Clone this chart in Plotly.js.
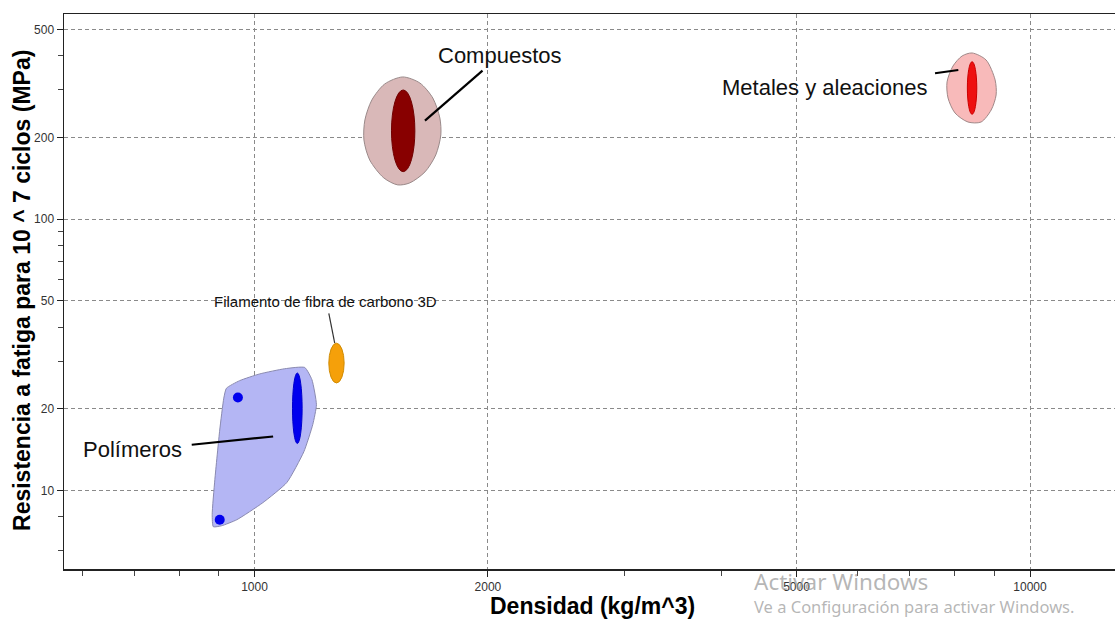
<!DOCTYPE html>
<html>
<head>
<meta charset="utf-8">
<script src="https://cdn.plot.ly/plotly-3.0.1.min.js"></script>
<style>html,body{margin:0;padding:0;background:#fff;}#chart{width:1115px;height:619px;}</style>
</head>
<body>
<div id="chart"></div>
<script>
// ---- Axis ticks ----
const xTickVals = [1000, 2000, 5000, 10000];
const xTickText = ['1000', '2000', '5000', '10000'];
const xMinorTicks = [600, 700, 800, 900, 3000, 4000, 6000, 7000, 8000, 9000];
const yTickVals = [10, 20, 50, 100, 200, 500];
const yTickText = ['10', '20', '50', '100', '200', '500'];
const yMinorTicks = [6, 8, 30, 40, 60, 70, 80, 90, 300, 400];

// ---- Material family envelopes (density kg/m^3, fatigue strength MPa) ----
const polymerX = [920, 957, 1016, 1094, 1161, 1186, 1202, 1189, 1158, 1101, 1025, 949, 907, 885, 882, 889, 902, 913, 920];
const polymerY = [23.8, 25.4, 26.9, 28.1, 28.4, 25.6, 20.7, 17.5, 13.9, 10.7, 9.01, 7.80, 7.41, 7.35, 8.14, 10.95, 16.7, 21.9, 23.8];
const compositeX = [1553, 1634, 1698, 1734, 1739, 1713, 1659, 1586, 1530, 1468, 1408, 1384, 1388, 1417, 1472, 1553];
const compositeY = [334.5, 317.8, 279.8, 236.1, 204.5, 172.5, 149.4, 136.1, 133.8, 142.0, 165.3, 196.0, 232.2, 275.2, 315.1, 334.5];
const metalX = [8420, 8777, 9016, 9043, 8911, 8648, 8318, 8004, 7840, 7817, 7957, 8174, 8420];
const metalY = [410, 386.4, 326.1, 287.1, 252.7, 228.2, 228.2, 246.4, 279.8, 320.7, 367.2, 399.7, 410];

// ---- Individual material bubbles (density range, strength range) ----
const bubbleNames = ['Polímero', 'Filamento de fibra de carbono 3D', 'Compuesto', 'Metal'];
const bubbleXMin = [1119.5, 1247, 1502, 8303];
const bubbleXMax = [1152, 1305, 1610, 8538];
const bubbleYMin = [14.9, 24.9, 149.7, 243.7];
const bubbleYMax = [27.1, 34.9, 299.5, 380.7];
const bubbleColors = ['#0000ee', '#f5a00a', '#880000', '#ee1010'];
const bubbleEdges = ['#0000cc', '#d08a00', '#700000', '#cc0000'];

// ---- Small polymer points ----
const dotX = [952, 902];
const dotY = [22.0, 7.80];

// ---- Labels ----
const labelText = ['Compuestos', 'Metales y aleaciones', 'Polímeros', 'Filamento de fibra de carbono 3D'];
const labelX = [2072, 5440, 697, 1236];
const labelY = [400, 305, 14.13, 49.6];
const labelSize = [22, 22, 22, 15];
// leader lines: start (near label) -> end (on group)
const leaderX0 = [1968, 7543, 830, 1247];
const leaderY0 = [352.8, 345.1, 14.74, 45.0];
const leaderX1 = [1659, 8083, 1057, 1269];
const leaderY1 = [230.8, 354.9, 15.81, 34.9];

const FONT = 'Liberation Sans, Arial, sans-serif';

const traces = [
  {x: polymerX, y: polymerY, mode: 'lines', fill: 'toself', fillcolor: '#b4b6f4',
   line: {color: '#8a8ab0', width: 1, shape: 'spline', smoothing: 0.5}, hoverinfo: 'skip', showlegend: false},
  {x: compositeX, y: compositeY, mode: 'lines', fill: 'toself', fillcolor: '#d9b8b8',
   line: {color: '#9a8a8a', width: 1, shape: 'spline', smoothing: 0.8}, hoverinfo: 'skip', showlegend: false},
  {x: metalX, y: metalY, mode: 'lines', fill: 'toself', fillcolor: '#f8baba',
   line: {color: '#a08888', width: 1, shape: 'spline', smoothing: 0.8}, hoverinfo: 'skip', showlegend: false},
  {x: dotX, y: dotY, mode: 'markers', marker: {color: '#0000ee', size: 10, line: {width: 0}},
   hoverinfo: 'skip', showlegend: false}
];
for (let i = 0; i < leaderX0.length; i++) {
  traces.push({x: [leaderX0[i], leaderX1[i]], y: [leaderY0[i], leaderY1[i]], mode: 'lines',
    line: {color: i === 3 ? '#333' : '#000', width: i === 3 ? 1.2 : 2.2}, hoverinfo: 'skip', showlegend: false});
}

const shapes = bubbleNames.map((n, i) => ({
  type: 'circle', xref: 'x', yref: 'y',
  x0: bubbleXMin[i], x1: bubbleXMax[i], y0: bubbleYMin[i], y1: bubbleYMax[i],
  fillcolor: bubbleColors[i], line: {color: bubbleEdges[i], width: 1}, layer: 'above'
}));

const annotations = labelText.map((t, i) => ({
  text: t, x: Math.log10(labelX[i]), y: Math.log10(labelY[i]), xref: 'x', yref: 'y',
  showarrow: false, xanchor: 'center', yanchor: 'middle',
  font: {family: FONT, size: labelSize[i], color: '#111'}
}));
annotations.push(
  {text: '<b>Densidad (kg/m^3)</b>', xref: 'paper', yref: 'paper', x: 0.5033, y: -0.067,
   showarrow: false, xanchor: 'center', yanchor: 'middle', font: {family: FONT, size: 23, color: '#000'}},
  {text: '<b>Resistencia a fatiga para 10 ^ 7 ciclos (MPa)</b>', xref: 'paper', yref: 'paper', x: -0.04, y: 0.5027,
   showarrow: false, textangle: -90, xanchor: 'center', yanchor: 'middle', font: {family: FONT, size: 23, color: '#000'}},
  {text: 'Activar Windows', xref: 'paper', yref: 'paper', x: 0.6546, y: -0.022,
   showarrow: false, xanchor: 'left', yanchor: 'middle', font: {family: 'Noto Sans, sans-serif', size: 22.5, color: 'rgba(150,150,150,0.7)'}},
  {text: 'Ve a Configuración para activar Windows.', xref: 'paper', yref: 'paper', x: 0.6546, y: -0.068,
   showarrow: false, xanchor: 'left', yanchor: 'middle', font: {family: 'Noto Sans, sans-serif', size: 16.5, color: 'rgba(150,150,150,0.7)'}}
);

const layout = {
  width: 1115, height: 619,
  margin: {l: 64, r: 0, t: 14, b: 50, pad: 0},
  paper_bgcolor: '#fff', plot_bgcolor: '#fff',
  showlegend: false,
  font: {family: FONT},
  xaxis: {
    type: 'log', range: [2.7544, 4.1096], autorange: false,
    tickmode: 'array', tickvals: xTickVals, ticktext: xTickText,
    ticks: 'outside', ticklen: 6, tickcolor: '#222', tickwidth: 1,
    tickfont: {family: FONT, size: 12, color: '#333'},
    showgrid: true, gridcolor: '#8a8a8a', gridwidth: 1, griddash: '4px,3px',
    minor: {tickmode: 'array', tickvals: xMinorTicks, ticks: 'outside', ticklen: 5, tickcolor: '#444', showgrid: false},
    showline: true, linecolor: '#222', linewidth: 1.5, mirror: true,
    zeroline: false
  },
  yaxis: {
    type: 'log', range: [0.7104, 2.7565], autorange: false,
    tickmode: 'array', tickvals: yTickVals, ticktext: yTickText,
    ticks: 'outside', ticklen: 6, tickcolor: '#222', tickwidth: 1,
    tickfont: {family: FONT, size: 12, color: '#333'},
    showgrid: true, gridcolor: '#8a8a8a', gridwidth: 1, griddash: '4px,3px',
    minor: {tickmode: 'array', tickvals: yMinorTicks, ticks: 'outside', ticklen: 5, tickcolor: '#444', showgrid: false},
    showline: true, linecolor: '#222', linewidth: 1.5, mirror: false,
    zeroline: false
  },
  shapes: shapes,
  annotations: annotations
};

Plotly.newPlot('chart', traces, layout, {staticPlot: true, displayModeBar: false});
</script>
</body>
</html>
